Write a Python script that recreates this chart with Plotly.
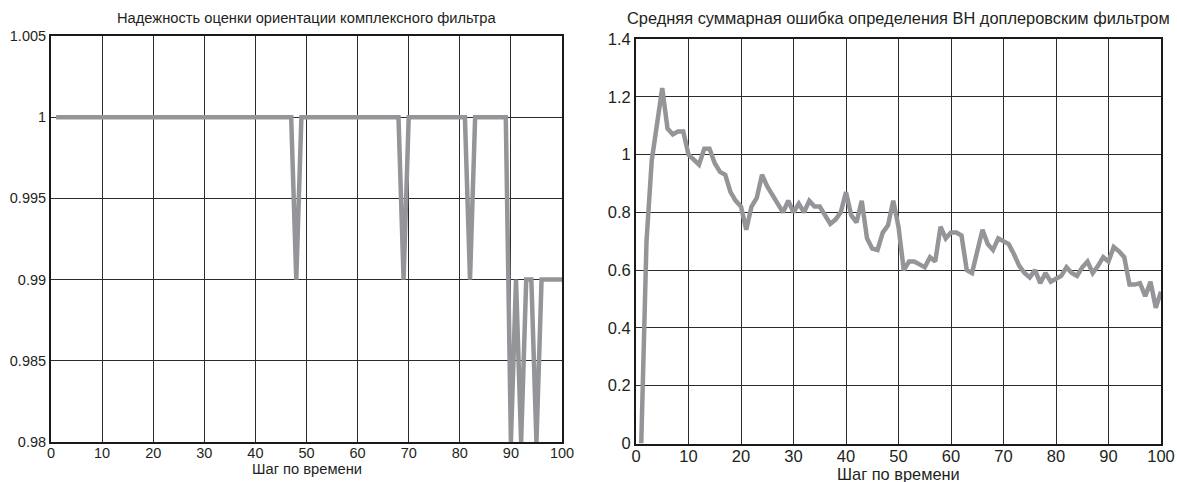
import plotly.graph_objects as go

steps = list(range(1, 101))

reliability = [1.0] * 100
drops_099 = [48, 69, 82, 91, 93, 94, 96, 97, 98, 99, 100]
drops_098 = [90, 92, 95]
for s in drops_099:
    reliability[s - 1] = 0.99
for s in drops_098:
    reliability[s - 1] = 0.98

error = [
    0.00, 0.70, 0.98, 1.11, 1.23, 1.09, 1.07, 1.08, 1.08, 1.00,
    0.98, 0.965, 1.02, 1.02, 0.97, 0.94, 0.93, 0.87, 0.84, 0.82,
    0.74, 0.82, 0.85, 0.93, 0.89, 0.86, 0.83, 0.80, 0.84, 0.80,
    0.83, 0.80, 0.84, 0.82, 0.82, 0.79, 0.76, 0.775, 0.80, 0.87,
    0.79, 0.765, 0.84, 0.71, 0.675, 0.67, 0.73, 0.755, 0.84, 0.75,
    0.60, 0.63, 0.63, 0.62, 0.61, 0.645, 0.63, 0.75, 0.71, 0.73,
    0.73, 0.72, 0.60, 0.59, 0.67, 0.74, 0.69, 0.67, 0.71, 0.70,
    0.69, 0.655, 0.615, 0.59, 0.575, 0.60, 0.555, 0.59, 0.56, 0.57,
    0.58, 0.61, 0.59, 0.58, 0.61, 0.63, 0.59, 0.615, 0.645, 0.63,
    0.68, 0.665, 0.645, 0.55, 0.55, 0.555, 0.51, 0.56, 0.47, 0.525,
]

x_ticks = [0, 10, 20, 30, 40, 50, 60, 70, 80, 90, 100]
left_yticks = [0.98, 0.985, 0.99, 0.995, 1.0, 1.005]
left_ylabels = ["0.98", "0.985", "0.99", "0.995", "1", "1.005"]
right_yticks = [0, 0.2, 0.4, 0.6, 0.8, 1.0, 1.2, 1.4]
right_ylabels = ["0", "0.2", "0.4", "0.6", "0.8", "1", "1.2", "1.4"]

left_title = "Надежность оценки ориентации комплексного фильтра"
right_title = "Средняя суммарная ошибка определения ВН доплеровским фильтром"
x_title = "Шаг по времени"

W, H = 1177, 482
FONT = "Liberation Sans, Arial, sans-serif"
TXT = "#231f20"
LINE = "#939598"

fig = go.Figure()
fig.add_trace(go.Scatter(x=steps, y=reliability, mode="lines",
                         line=dict(color=LINE, width=4.5), xaxis="x", yaxis="y",
                         showlegend=False))
fig.add_trace(go.Scatter(x=steps, y=error, mode="lines",
                         line=dict(color=LINE, width=4.5), xaxis="x2", yaxis="y2",
                         showlegend=False))

L = dict(x0=51, x1=562, y0=36, y1=442, fs=14.5, tfs=14.7)
R = dict(x0=636, x1=1161, y0=39, y1=443.5, fs=16.5, tfs=16.4)

def xdom(p):
    return [p["x0"] / W, p["x1"] / W]

def ydom(p):
    return [1 - p["y1"] / H, 1 - p["y0"] / H]

common = dict(showgrid=True, gridcolor="#2b2b2b", gridwidth=1, zeroline=False,
              showline=True, linecolor="#1a1a1a", linewidth=2, mirror=True,
              ticks="", color=TXT, automargin=False)

fig.update_layout(
    template="none",
    width=W, height=H, margin=dict(l=0, r=0, t=0, b=0, pad=0),
    paper_bgcolor="white", plot_bgcolor="white",
    font=dict(family=FONT, color=TXT),
    xaxis=dict(domain=xdom(L), range=[0, 100], tickvals=x_ticks,
               tickfont=dict(size=L["fs"]), anchor="y", ticklabelstandoff=-3, **common),
    yaxis=dict(domain=ydom(L), range=[0.98, 1.005], tickvals=left_yticks,
               ticktext=left_ylabels, tickfont=dict(size=L["fs"]), anchor="x", **common),
    xaxis2=dict(domain=xdom(R), range=[0, 100], tickvals=x_ticks,
                tickfont=dict(size=R["fs"]), anchor="y2", ticklabelstandoff=-3, **common),
    yaxis2=dict(domain=ydom(R), range=[0, 1.4], tickvals=right_yticks,
                ticktext=right_ylabels, tickfont=dict(size=R["fs"]), anchor="x2", **common),
)

fig.add_annotation(text=left_title, xref="x domain", yref="paper", x=0.5,
                   y=1 - 18 / H, yanchor="middle", showarrow=False,
                   font=dict(size=L["tfs"], color=TXT))
fig.add_annotation(text=right_title, xref="x2 domain", yref="paper", x=0.5,
                   y=1 - 18 / H, yanchor="middle", showarrow=False,
                   font=dict(size=R["tfs"], color=TXT))
fig.add_annotation(text=x_title, xref="x domain", yref="paper", x=0.5,
                   y=1 - 469 / H, yanchor="middle", showarrow=False,
                   font=dict(size=L["tfs"], color=TXT))
fig.add_annotation(text=x_title, xref="x2 domain", yref="paper", x=0.5,
                   y=1 - 474 / H, yanchor="middle", showarrow=False,
                   font=dict(size=R["tfs"], color=TXT))

fig.write_html("out.html")
